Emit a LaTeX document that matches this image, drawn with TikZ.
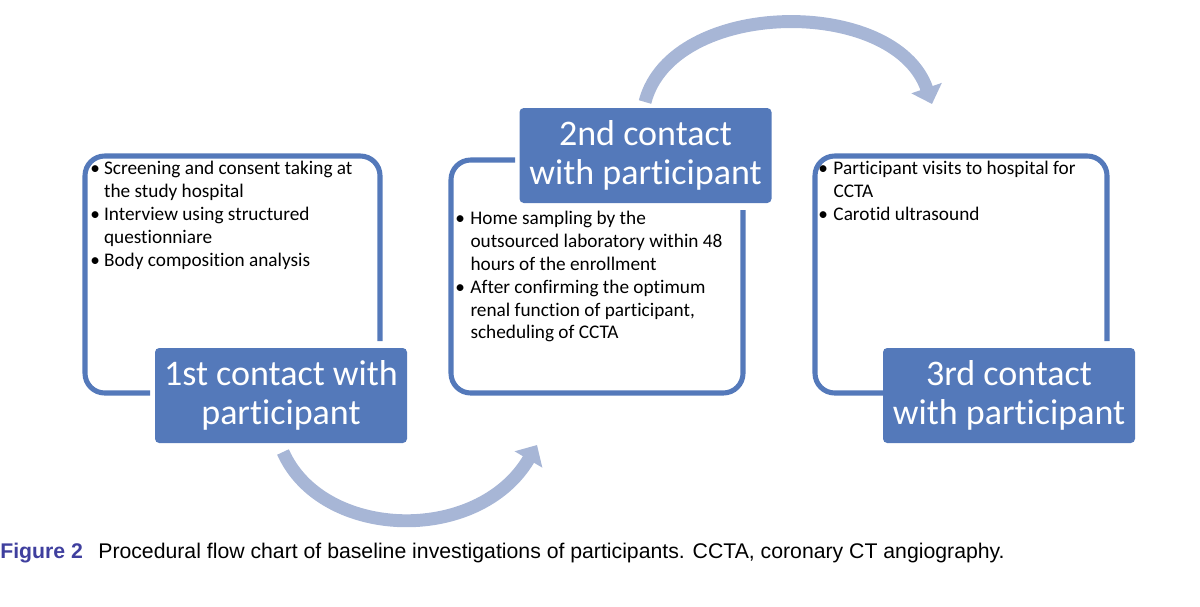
\documentclass[tikz,border=0pt]{standalone}
\usepackage{fontspec}
\setmainfont[Ligatures={NoCommon}]{Carlito}
\newfontfamily\capfont{Liberation Sans}
\usetikzlibrary{arrows.meta}
\definecolor{frameblue}{HTML}{5479BA}
\definecolor{labelblue}{HTML}{5479BA}
\definecolor{arcblue}{HTML}{A7B6D6}
\definecolor{capblue}{HTML}{3F3F9E}
\begin{document}
\begin{tikzpicture}[x=0.025cm,y=-0.025cm,
  frame/.style={draw=frameblue,line width=3.6pt,rounded corners=14pt},
  labelbox/.style={fill=labelblue,draw=none,rounded corners=3pt,text=white,
    minimum width=252*0.025cm,minimum height=95*0.025cm,align=center,
    inner sep=0pt,font=\fontsize{25.6}{28}\selectfont},
  bullets/.style={anchor=north west,inner sep=0pt,align=left,
    font=\fontsize{13.7}{16.3}\selectfont},
  arc/.style={draw=arcblue,line width=9.2pt,
    -{Triangle[width=0.78cm,length=0.42cm]}}]
\useasboundingbox (0,0) rectangle (1200,606);

% frames
\draw[frame] (150,393) -- (85,393) -- (85,156) -- (380,156) -- (380,341);
\draw[frame] (515,160) -- (451,160) -- (451,393) -- (743,393) -- (743,210);
\draw[frame] (885,393) -- (815,393) -- (815,156) -- (1107,156) -- (1107,341);

% label boxes
\node[labelbox] (l1) at (281,395.5) {1st contact with\\participant};
\node[labelbox] (l2) at (645.5,155.5) {2nd contact\\with participant};
\node[labelbox] (l3) at (1009,395.5) {3rd contact\\with participant};

% bullet texts
\node[bullets] (t1) at (90,158) {%
\begin{tabular}{@{}l@{\hspace{3pt}}l@{}}
\textbullet & Screening and consent taking at\\
 & the study hospital\\
\textbullet & Interview using structured\\
 & questionniare\\
\textbullet & Body composition analysis
\end{tabular}};
\node[bullets] (t2) at (455,208) {%
\begin{tabular}{@{}l@{\hspace{4pt}}l@{}}
\textbullet & Home sampling by the\\
 & outsourced laboratory within 48\\
 & hours of the enrollment\\
\textbullet & After confirming the optimum\\
 & renal function of participant,\\
 & scheduling of CCTA
\end{tabular}};
\node[bullets] (t3) at (818,158) {%
\begin{tabular}{@{}l@{\hspace{4pt}}l@{}}
\textbullet & Participant visits to hospital for\\
 & CCTA\\
\textbullet & Carotid ultrasound
\end{tabular}};

% curved arrows
\coordinate (a1s) at (283,452);
\coordinate (a1e) at (537,445);
\coordinate (a2s) at (645,102);
\coordinate (a2e) at (932,104);
\draw[arc] (a1s) .. controls (322,540) and (478,545) .. (a1e);
\draw[arc] (a2s) .. controls (672,-2) and (895,-4) .. (a2e);

% caption
\node[anchor=west,inner sep=0pt,font=\capfont\fontsize{15.1}{18}\selectfont] (cap) at (0,553)
  {\textcolor{capblue}{\bfseries Figure 2}\hspace{11pt}Procedural flow chart of baseline investigations of participants. CCTA, coronary CT angiography.};
\end{tikzpicture}
\end{document}
